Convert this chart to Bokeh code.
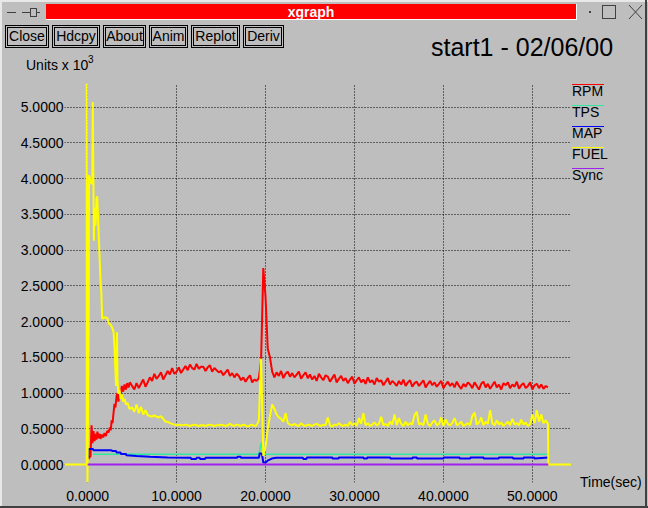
from bokeh.plotting import figure
from bokeh.models import Range1d, FixedTicker, PrintfTickFormatter, Div
from bokeh.layouts import column, row
from bokeh.embed import file_html
from bokeh.resources import INLINE

BG = "#bebebe"
FONT = "Liberation Sans"

# ---------------- texts / ticks ----------------
WINDOW_TITLE = "xgraph"
BUTTONS = ["Close", "Hdcpy", "About", "Anim", "Replot", "Deriv"]
PLOT_TITLE = "start1 - 02/06/00"
Y_UNITS = "Units x 10"
Y_EXP = "3"
X_LABEL = "Time(sec)"
X_TICKS = [0, 10, 20, 30, 40, 50]
Y_TICKS = [0.0, 0.5, 1.0, 1.5, 2.0, 2.5, 3.0, 3.5, 4.0, 4.5, 5.0]
SERIES = ["RPM", "TPS", "MAP", "FUEL", "Sync"]
COLORS = ["#ff0000", "#30e8a0", "#0000ff", "#ffff00", "#a020f0"]

# ---------------- data ----------------
# uniformly sampled part of RPM and FUEL (start time, sample period)
GRID_START = 5.0
GRID_STEP = 0.25

RPM_T_EARLY = [0.1, 0.2, 0.33, 0.44, 0.55, 0.66, 0.78, 0.89, 1.0, 1.1,
               1.2, 1.35, 1.45, 1.6, 1.75, 1.9, 2.05, 2.2, 2.35, 2.5,
               2.6, 2.7, 2.8, 2.91, 3.02, 3.13, 3.25, 3.36, 3.47, 3.59,
               3.7, 3.85, 4.0, 4.15, 4.3, 4.45, 4.6, 4.75]
RPM_V_EARLY = [0.08, 0.10, 0.12, 0.55, 0.30, 0.47, 0.33, 0.43, 0.35, 0.46,
               0.37, 0.43, 0.36, 0.42, 0.38, 0.44, 0.40, 0.47, 0.45, 0.52,
               0.48, 0.62, 0.58, 0.72, 0.85, 0.80, 0.96, 1.00, 0.88, 1.05,
               0.97, 1.10, 1.02, 1.12, 1.05, 1.14, 1.08, 1.15]
RPM_V_GRID = [
    1.10, 1.05, 1.14, 1.07, 1.13, 1.19, 1.09, 1.15,
    1.22, 1.17, 1.27, 1.20, 1.24, 1.29, 1.19, 1.25,
    1.31, 1.26, 1.35, 1.27, 1.30, 1.36, 1.28, 1.33,
    1.38, 1.32, 1.40, 1.35, 1.33, 1.41, 1.34, 1.37,
    1.37, 1.31, 1.36, 1.39, 1.30, 1.35, 1.32, 1.29,
    1.31, 1.25, 1.29, 1.33, 1.24, 1.28, 1.22, 1.27,
    1.24, 1.18, 1.22, 1.16, 1.21, 1.25, 1.15, 1.19,
    1.17, 1.21, 1.45, 2.75, 2.35, 1.62, 1.50, 1.30,
    1.22, 1.29, 1.24, 1.31, 1.21, 1.27, 1.30, 1.23,
    1.28, 1.22, 1.26, 1.30, 1.20, 1.25, 1.29, 1.21,
    1.26, 1.19, 1.24, 1.17, 1.27, 1.22, 1.18, 1.25,
    1.23, 1.16, 1.21, 1.26, 1.15, 1.20, 1.24, 1.17,
    1.21, 1.14, 1.19, 1.23, 1.13, 1.18, 1.22, 1.15,
    1.19, 1.13, 1.22, 1.15, 1.18, 1.12, 1.21, 1.16,
    1.18, 1.11, 1.16, 1.21, 1.12, 1.17, 1.14, 1.10,
    1.17, 1.12, 1.19, 1.10, 1.15, 1.18, 1.09, 1.14,
    1.16, 1.10, 1.14, 1.18, 1.08, 1.13, 1.17, 1.11,
    1.15, 1.09, 1.13, 1.17, 1.07, 1.12, 1.16, 1.10,
    1.14, 1.08, 1.16, 1.10, 1.06, 1.13, 1.09, 1.15,
    1.12, 1.07, 1.15, 1.10, 1.05, 1.13, 1.16, 1.08,
    1.13, 1.06, 1.11, 1.16, 1.08, 1.12, 1.05, 1.14,
    1.11, 1.15, 1.07, 1.12, 1.09, 1.16, 1.06, 1.11,
    1.14, 1.07, 1.10, 1.15, 1.05, 1.11, 1.13, 1.07,
    1.12, 1.06, 1.10, 1.08,
]

FUEL_T_EARLY = [-2.6, -0.1, -0.1, -0.02, 0.12, 0.15, 0.3, 0.45, 0.52, 0.58,
                0.64, 0.70, 0.78, 0.89, 1.0, 1.08, 1.19, 1.26, 1.37, 1.45,
                1.53, 1.64, 1.9, 2.2, 2.4, 2.58, 2.8, 2.91, 3.02, 3.13,
                3.2, 3.3, 3.36, 3.47, 3.59, 3.7, 3.85, 4.0, 4.15, 4.3,
                4.5, 4.7]
FUEL_V_EARLY = [0.0, 0.0, 5.33, -0.25, 2.0, 4.05, 3.98, 3.92, 3.96, 5.07,
                4.14, 3.13, 3.59, 3.34, 3.73, 3.75, 3.41, 3.17, 2.81, 2.57,
                2.43, 2.04, 2.06, 2.05, 1.97, 1.96, 1.90, 1.86, 1.65, 1.30,
                1.10, 1.85, 1.17, 0.99, 1.05, 0.92, 0.98, 0.88, 0.92, 0.84,
                0.86, 0.78]
FUEL_V_GRID = [
    0.80, 0.74, 0.84, 0.72, 0.81, 0.70, 0.76, 0.69,
    0.68, 0.67, 0.69, 0.67, 0.66, 0.68, 0.64, 0.60,
    0.60, 0.58, 0.57, 0.56, 0.55, 0.56, 0.55, 0.55,
    0.56, 0.55, 0.54, 0.55, 0.56, 0.55, 0.54, 0.55,
    0.55, 0.54, 0.55, 0.56, 0.55, 0.54, 0.55, 0.55,
    0.56, 0.55, 0.54, 0.55, 0.57, 0.55, 0.54, 0.56,
    0.55, 0.54, 0.56, 0.55, 0.53, 0.55, 0.56, 0.54,
    0.55, 0.62, 1.48, 0.12, 0.25, 0.50, 0.68, 0.84,
    0.78, 0.70, 0.66, 0.64, 0.60, 0.72, 0.58, 0.56,
    0.55, 0.57, 0.55, 0.54, 0.58, 0.55, 0.54, 0.56,
    0.55, 0.54, 0.56, 0.57, 0.55, 0.54, 0.56, 0.55,
    0.66, 0.55, 0.53, 0.56, 0.55, 0.58, 0.55, 0.54,
    0.56, 0.54, 0.60, 0.55, 0.58, 0.54, 0.65, 0.57,
    0.72, 0.55, 0.58, 0.54, 0.56, 0.59, 0.55, 0.57,
    0.67, 0.55, 0.57, 0.54, 0.60, 0.56, 0.70, 0.55,
    0.65, 0.57, 0.54, 0.60, 0.55, 0.58, 0.56, 0.69,
    0.74, 0.56, 0.58, 0.55, 0.70, 0.57, 0.54, 0.59,
    0.62, 0.55, 0.57, 0.66, 0.54, 0.63, 0.57, 0.55,
    0.58, 0.65, 0.55, 0.57, 0.60, 0.54, 0.56, 0.58,
    0.55, 0.68, 0.73, 0.56, 0.59, 0.66, 0.55, 0.60,
    0.57, 0.76, 0.58, 0.55, 0.62, 0.56, 0.59, 0.54,
    0.57, 0.60, 0.55, 0.64, 0.56, 0.58, 0.55, 0.63,
    0.56, 0.59, 0.54, 0.57, 0.70, 0.58, 0.76, 0.60,
    0.70, 0.58, 0.62, 0.57,
]
FUEL_T_END = [51.8, 54.4]
FUEL_V_END = [0.0, 0.0]

TPS_T = [0.6, 19.2, 19.35, 19.5, 19.62, 19.72, 51.8]
TPS_V = [0.145, 0.145, 0.20, 0.30, 0.29, 0.145, 0.145]

MAP_T = [0.1, 0.12, 0.6, 0.65, 2.7, 2.75, 3.2, 3.25, 3.7, 3.75,
         4.3, 4.35, 5.5, 7.0, 9.0, 11.6, 11.65, 12.2, 12.25, 12.6,
         12.65, 13.2, 13.25, 16.8, 16.85, 17.2, 17.25, 19.25, 19.35, 19.6,
         19.75, 20.0, 20.3, 20.7, 21.2, 24.2, 24.25, 24.6, 24.65, 27.5,
         27.55, 28.2, 28.25, 31.0, 31.05, 31.4, 31.45, 34.0, 34.05, 36.5,
         36.55, 37.0, 37.05, 40.0, 40.05, 41.8, 41.85, 43.0, 43.05, 44.5,
         44.55, 46.2, 46.25, 47.8, 47.85, 49.0, 49.05, 50.2, 50.25, 51.8]
MAP_V = [0.10, 0.22, 0.22, 0.20, 0.20, 0.19, 0.19, 0.17, 0.17, 0.15,
         0.15, 0.13, 0.12, 0.11, 0.10, 0.095, 0.08, 0.08, 0.095, 0.095,
         0.08, 0.08, 0.095, 0.095, 0.11, 0.11, 0.095, 0.095, 0.16, 0.15,
         0.03, 0.03, 0.06, 0.085, 0.095, 0.095, 0.08, 0.08, 0.10, 0.10,
         0.085, 0.085, 0.10, 0.10, 0.085, 0.085, 0.10, 0.10, 0.085, 0.085,
         0.10, 0.10, 0.085, 0.085, 0.10, 0.10, 0.085, 0.085, 0.10, 0.10,
         0.085, 0.085, 0.10, 0.10, 0.085, 0.085, 0.10, 0.10, 0.085, 0.10]

SYNC_T = [0.0, 51.8]
SYNC_V = [0.0, 0.0]

# ---------------- assemble series ----------------
rpm_t = RPM_T_EARLY + [GRID_START + GRID_STEP * i for i in range(len(RPM_V_GRID))]
rpm_v = RPM_V_EARLY + RPM_V_GRID
fuel_t = FUEL_T_EARLY + [GRID_START + GRID_STEP * i for i in range(len(FUEL_V_GRID))] + FUEL_T_END
fuel_v = FUEL_V_EARLY + FUEL_V_GRID + FUEL_V_END

series_data = {
    "RPM": (rpm_t, rpm_v, 2.0),
    "TPS": (TPS_T, TPS_V, 1.5),
    "MAP": (MAP_T, MAP_V, 2.0),
    "FUEL": (fuel_t, fuel_v, 2.0),
    "Sync": (SYNC_T, SYNC_V, 2.0),
}

# ---------------- plot ----------------
p = figure(width=569, height=430,
           x_range=Range1d(-2.6, 54.4), y_range=Range1d(-0.25, 5.33),
           output_backend="svg", toolbar_location=None,
           min_border_left=62, min_border_right=0, min_border_top=7, min_border_bottom=24,
           background_fill_color=BG, border_fill_color=BG, outline_line_color=None)

p.xaxis.ticker = FixedTicker(ticks=X_TICKS)
p.yaxis.ticker = FixedTicker(ticks=Y_TICKS)
p.xaxis.formatter = PrintfTickFormatter(format="%.4f")
p.yaxis.formatter = PrintfTickFormatter(format="%.4f")
for ax in (p.xaxis, p.yaxis):
    ax.axis_line_color = None
    ax.major_tick_line_color = None
    ax.minor_tick_line_color = None
    ax.major_tick_in = 0
    ax.major_tick_out = 0
    ax.major_label_text_font = FONT
    ax.major_label_text_font_size = "14px"
    ax.major_label_text_color = "#000000"
p.xaxis.major_label_standoff = 8
p.yaxis.major_label_standoff = 1

p.grid.grid_line_color = "#000000"
p.grid.grid_line_dash = "1 2"
p.grid.grid_line_width = 1

for name, color in zip(SERIES, COLORS):
    t, v, w = series_data[name]
    p.line(t, v, line_color=color, line_width=w)

# ---------------- header (window frame, buttons, title) ----------------
BTN_X = [(5, 49), (52, 100), (103, 146), (149, 188), (191, 240), (243, 284)]
h = []
h.append(f'<div style="position:relative;width:648px;height:76px;background:{BG};overflow:hidden;'
         f'font-family:\'{FONT}\',Arial,sans-serif;color:#000;">')
h.append('<div style="position:absolute;left:0;top:0;width:648px;height:2px;background:#e8e8e8;"></div>')
h.append('<div style="position:absolute;left:0;top:0;width:2px;height:76px;background:#e8e8e8;"></div>')
h.append('<div style="position:absolute;left:645px;top:0;width:2px;height:76px;background:#404040;"></div>')
h.append('<div style="position:absolute;left:46px;top:4px;width:531px;height:16px;background:#ff0000;'
         'border-right:1px solid #fff;border-bottom:1px solid #fff;color:#fff;font-weight:bold;'
         f'font-size:14px;line-height:16px;text-align:center;">{WINDOW_TITLE}</div>')
h.append('<svg style="position:absolute;left:0;top:0" width="648" height="24">'
         '<line x1="7" y1="12.5" x2="16" y2="12.5" stroke="#404040"/>'
         '<line x1="22" y1="12.5" x2="30" y2="12.5" stroke="#404040"/>'
         '<rect x="30.5" y="8.5" width="6" height="8" fill="none" stroke="#404040"/>'
         '<line x1="36" y1="12.5" x2="40" y2="12.5" stroke="#404040"/>'
         '<rect x="589" y="11" width="2" height="2" fill="#404040"/>'
         '<rect x="602.5" y="5.5" width="13" height="13" fill="none" stroke="#404040"/>'
         '<line x1="629" y1="5" x2="642" y2="19" stroke="#404040"/>'
         '<line x1="642" y1="5" x2="629" y2="19" stroke="#404040"/>'
         '</svg>')
for label, (x0, x1) in zip(BUTTONS, BTN_X):
    h.append(f'<div style="position:absolute;left:{x0}px;top:25px;width:{x1 - x0}px;height:23px;'
             'box-sizing:border-box;border:1px solid #000;'
             'box-shadow:inset 0 0 0 1px ' + BG + ',inset 0 0 0 2px #000;'
             f'font-size:14px;line-height:21px;text-align:center;">{label}</div>')
h.append(f'<div style="position:absolute;left:431px;top:35px;font-size:25px;line-height:25px;'
         f'white-space:nowrap;">{PLOT_TITLE}</div>')
h.append(f'<div style="position:absolute;left:26px;top:58px;font-size:14px;line-height:14px;'
         f'white-space:nowrap;">{Y_UNITS}</div>')
h.append(f'<div style="position:absolute;left:88px;top:55px;font-size:10px;line-height:10px;">{Y_EXP}</div>')
h.append('</div>')
header = Div(text="".join(h), width=648, height=76, margin=0)

# ---------------- side panel (legend + x label) ----------------
s = []
s.append(f'<div style="position:relative;width:77px;height:430px;background:{BG};overflow:hidden;'
         f'font-family:\'{FONT}\',Arial,sans-serif;color:#000;">')
for i, (name, color) in enumerate(zip(SERIES, COLORS)):
    y = 8 + 21 * i
    s.append(f'<div style="position:absolute;left:1px;top:{y}px;width:32px;height:1px;background:{color};"></div>')
    s.append(f'<div style="position:absolute;left:1px;top:{y}px;font-size:14px;line-height:14px;'
             f'white-space:nowrap;">{name}</div>')
s.append(f'<div style="position:absolute;left:9px;top:399px;font-size:14px;line-height:14px;'
         f'white-space:nowrap;">{X_LABEL}</div>')
s.append('<div style="position:absolute;left:74px;top:0;width:2px;height:430px;background:#404040;"></div>')
s.append('</div>')
side = Div(text="".join(s), width=77, height=430, margin=0)

left_edge = Div(text="", width=2, height=430, margin=0, styles={"background-color": "#e8e8e8"})
footer = Div(text="", width=648, height=2, margin=0, styles={"background-color": "#404040"})

layout = column(header, row(left_edge, p, side, spacing=0), footer, spacing=0,
                styles={"background-color": BG})
open("out.html", "w").write(file_html(layout, INLINE))
